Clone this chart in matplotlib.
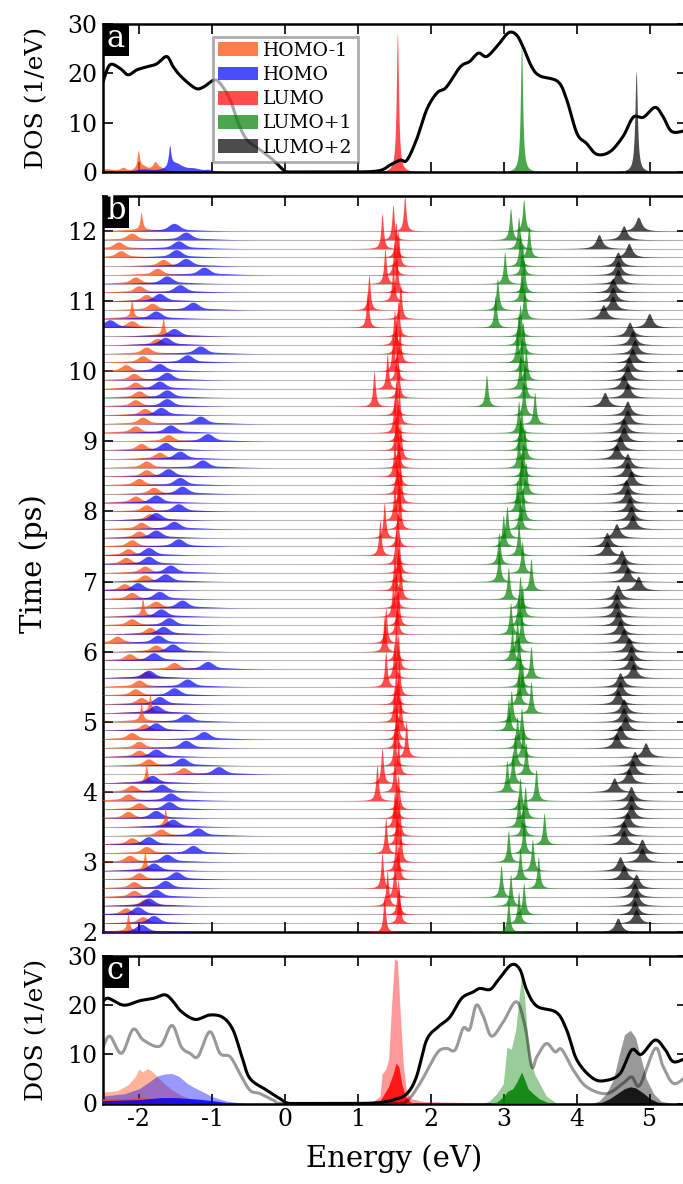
import numpy as np
import matplotlib
matplotlib.use('Agg')
import matplotlib.pyplot as plt
from matplotlib.patches import Patch, Rectangle

plt.rcParams['font.family'] = ['DejaVu Serif']
plt.rcParams['axes.unicode_minus'] = False
plt.rcParams['xtick.direction'] = 'in'
plt.rcParams['ytick.direction'] = 'in'
plt.rcParams['xtick.top'] = True
plt.rcParams['ytick.right'] = True
plt.rcParams['xtick.major.size'] = 7
plt.rcParams['ytick.major.size'] = 7
plt.rcParams['xtick.major.width'] = 1.2
plt.rcParams['ytick.major.width'] = 1.2
plt.rcParams['axes.linewidth'] = 1.8

orbitals = ['HOMO-1', 'HOMO', 'LUMO', 'LUMO+1', 'LUMO+2']
orb_colors = ['orangered', 'blue', 'red', 'green', 'black']

# ---- panel a: total DOS (black) ----
a_energy = [-2.50, -2.40, -2.26, -2.15, -2.03, -1.90, -1.76, -1.62, -1.53, -1.42, -1.23, -1.12,
            -0.98, -0.89, -0.75, -0.64, -0.52, -0.34, -0.16, -0.02, 0.07, 0.5, 1.0, 1.30, 1.45,
            1.58, 1.67, 1.80, 1.94, 2.08, 2.21, 2.40, 2.53, 2.65, 2.76, 2.90, 3.06, 3.17, 3.26,
            3.38, 3.49, 3.74, 3.86, 4.00, 4.13, 4.27, 4.45, 4.63, 4.77, 4.91, 5.07, 5.18, 5.30, 5.50]
a_dos = [18.0, 21.7, 21.0, 19.7, 20.7, 21.3, 21.9, 23.4, 21.3, 19.3, 17.0, 17.2,
         18.6, 18.0, 14.6, 9.9, 6.5, 4.5, 2.4, 0.4, 0.0, 0.0, 0.0, 0.3, 1.5,
         2.4, 2.4, 6.5, 12.6, 16.0, 17.2, 21.3, 22.4, 24.1, 23.4, 25.4, 28.2, 27.8, 25.4,
         21.3, 19.5, 18.3, 14.6, 7.8, 5.8, 3.6, 4.1, 7.2, 11.1, 11.1, 13.1, 11.2, 8.2, 8.4]

# panel a projected peaks: (energy, height, half-width) per orbital
a_peaks = {
    'HOMO-1': [(-2.45, 0.6, 0.12), (-2.22, 0.7, 0.05), (-2.01, 3.6, 0.02), (-1.95, 1.0, 0.08),
               (-1.78, 1.6, 0.04), (-1.70, 0.6, 0.08)],
    'HOMO': [(-1.95, 0.5, 0.15), (-1.58, 4.2, 0.02), (-1.50, 1.6, 0.12), (-1.25, 0.5, 0.12),
             (-1.05, 0.3, 0.06)],
    'LUMO': [(1.54, 28.4, 0.018)],
    'LUMO+1': [(3.24, 26.1, 0.018)],
    'LUMO+2': [(4.81, 20.5, 0.02)],
}

# ---- panel b: orbital energies per snapshot, from t = 12 ps down to t = 2 ps ----
times = np.linspace(12, 2, 81)
homo1_e = [-1.97, -2.10, -2.28, -2.25, -1.67, -1.75, -2.05, -2.00, -1.90, -1.82, -2.10,
           -2.10, -1.67, -1.75, -1.90, -1.95, -2.18, -2.07, -2.05, -2.00, -2.05,
           -1.92, -1.95, -2.05, -1.60, -1.97, -1.72, -1.90, -1.90, -2.00, -1.80,
           -2.05, -1.90, -1.85, -1.97, -2.00, -2.10, -2.15, -2.18, -1.92, -1.92,
           -2.20, -2.10, -1.77, -1.95, -2.10, -1.85, -2.30, -1.77, -2.13, -1.52,
           -1.90, -2.00, -2.05, -1.97, -1.85, -1.97, -1.92, -2.10, -2.00, -2.00,
           -1.87, -1.39, -1.90, -2.10, -2.15, -2.00, -2.15, -1.64, -1.70, -2.10,
           -1.90, -2.13, -1.92, -2.00, -2.07, -2.07, -1.92, -2.18, -1.95, -2.15]
homo1_sharp_times = [12.0, 10.75, 10.5, 6.5, 5.125, 5.0, 4.125, 3.5, 2.875, 2.0]
homo_e = [-1.52, -1.36, -1.46, -1.49, -1.36, -1.11, -1.62, -1.44, -1.72, -1.26, -1.77,
          -2.40, -1.52, -1.64, -1.16, -1.34, -1.72, -1.62, -1.72, -1.62, -1.62,
          -1.70, -1.16, -1.57, -1.06, -1.64, -1.44, -1.13, -1.60, -1.44, -1.41,
          -1.77, -1.46, -1.77, -1.52, -1.77, -1.46, -1.87, -1.87, -1.57, -1.64,
          -2.02, -1.72, -1.41, -1.70, -1.59, -1.67, -1.74, -1.54, -1.80, -1.06,
          -1.87, -1.34, -1.52, -1.72, -1.77, -1.36, -1.77, -1.11, -1.36, -1.77,
          -1.41, -0.91, -1.82, -1.69, -1.57, -1.59, -1.77, -1.54, -1.19, -1.87,
          -1.26, -1.62, -1.80, -1.49, -1.64, -1.77, -1.87, -2.02, -1.80, -1.97]
lumo_e = [1.64, 1.48, 1.33, 1.52, 1.55, 1.50, 1.37, 1.53, 1.48, 1.15, 1.58,
          1.13, 1.55, 1.50, 1.52, 1.57, 1.48, 1.53, 1.40, 1.55, 1.22,
          1.52, 1.56, 1.50, 1.54, 1.52, 1.58, 1.55, 1.50, 1.56, 1.53,
          1.58, 1.55, 1.50, 1.57, 1.36, 1.54, 1.30, 1.52, 1.56, 1.55,
          1.50, 1.58, 1.52, 1.48, 1.55, 1.53, 1.38, 1.36, 1.52, 1.55,
          1.50, 1.38, 1.56, 1.52, 1.55, 1.50, 1.58, 1.53, 1.52, 1.66,
          1.50, 1.55, 1.33, 1.50, 1.26, 1.55, 1.52, 1.50, 1.56, 1.53,
          1.38, 1.58, 1.52, 1.55, 1.33, 1.50, 1.40, 1.55, 1.56, 1.36]
lumo1_e = [3.27, 3.09, 3.20, 3.34, 3.22, 3.25, 3.01, 3.27, 3.24, 2.91, 3.28,
           2.88, 3.22, 3.20, 3.26, 3.18, 3.24, 3.30, 3.22, 3.28, 2.76,
           3.27, 3.42, 3.20, 3.24, 3.22, 3.28, 3.20, 3.26, 3.24, 3.30,
           3.22, 3.18, 3.26, 3.22, 3.04, 2.99, 3.20, 2.93, 3.25, 2.93,
           3.37, 3.06, 3.22, 3.25, 3.20, 3.09, 3.24, 3.18, 3.11, 3.20,
           3.37, 3.22, 3.25, 3.20, 3.37, 3.10, 3.06, 3.24, 3.18, 3.26,
           3.15, 3.30, 3.12, 3.04, 3.44, 3.22, 3.29, 3.20, 3.26, 3.55,
           3.27, 3.06, 3.39, 3.22, 3.47, 2.96, 3.09, 3.27, 3.20, 3.06]
lumo2_e = [4.84, 4.64, 4.30, 4.71, 4.56, 4.56, 4.56, 4.49, 4.49, 4.49, 4.36,
           4.99, 4.72, 4.76, 4.79, 4.76, 4.71, 4.69, 4.64, 4.69, 4.38,
           4.69, 4.69, 4.64, 4.64, 4.59, 4.54, 4.69, 4.69, 4.74, 4.67,
           4.69, 4.72, 4.74, 4.76, 4.54, 4.41, 4.41, 4.61, 4.64, 4.69,
           4.84, 4.56, 4.54, 4.54, 4.56, 4.59, 4.64, 4.71, 4.74, 4.74,
           4.77, 4.59, 4.59, 4.56, 4.64, 4.64, 4.66, 4.59, 4.54, 4.94,
           4.79, 4.76, 4.71, 4.51, 4.74, 4.74, 4.74, 4.69, 4.64, 4.64,
           4.89, 4.89, 4.59, 4.64, 4.81, 4.79, 4.81, 4.79, 4.81, 4.56]

# ---- panel c: time-averaged DOS ----
c_energy = [-2.50, -2.42, -2.21, -1.99, -1.80, -1.64, -1.53, -1.42, -1.23, -1.03, -0.85, -0.71,
            -0.59, -0.48, -0.25, -0.07, 0.07, 0.5, 1.0, 1.3, 1.5, 1.67, 1.80, 1.94, 2.10, 2.26,
            2.42, 2.58, 2.67, 2.81, 2.92, 3.10, 3.22, 3.31, 3.45, 3.72, 3.86, 4.00, 4.22, 4.40,
            4.59, 4.75, 4.88, 5.07, 5.21, 5.32, 5.50]
c_dos = [20.7, 21.4, 20.0, 20.9, 21.4, 22.1, 20.7, 18.7, 17.1, 18.0, 17.5, 14.9,
         9.5, 5.1, 2.7, 1.0, 0.0, 0.0, 0.0, 0.2, 0.8, 2.0, 5.4, 12.9, 15.6, 17.6,
         21.4, 22.7, 23.4, 23.2, 25.1, 28.2, 27.2, 23.1, 19.8, 18.5, 14.9, 8.8, 5.1, 4.7,
         6.1, 10.9, 10.0, 12.9, 10.9, 8.5, 9.2]
c_gray_energy = [-2.50, -2.40, -2.24, -2.08, -1.94, -1.71, -1.55, -1.42, -1.30, -1.19, -1.03, -0.89,
                 -0.75, -0.62, -0.48, -0.34, -0.15, 0.0, 1.0, 1.5, 1.67, 1.85, 2.08, 2.21, 2.33,
                 2.44, 2.53, 2.62, 2.72, 2.83, 2.99, 3.17, 3.29, 3.38, 3.45, 3.58, 3.70, 3.79,
                 3.95, 4.13, 4.40, 4.63, 4.75, 4.86, 5.07, 5.18, 5.32, 5.50]
c_gray_dos = [11.2, 13.7, 10.2, 15.1, 12.9, 11.7, 15.9, 11.5, 10.2, 9.6, 14.6, 10.2,
              9.5, 6.1, 2.7, 2.0, 0.6, 0.0, 0.0, 0.0, 0.5, 4.1, 10.2, 11.2, 10.9,
              15.3, 15.1, 20.0, 17.6, 13.7, 16.6, 20.7, 15.6, 7.5, 9.5, 12.2, 10.5, 11.0,
              6.8, 3.4, 2.0, 4.1, 5.4, 3.7, 11.2, 7.5, 4.1, 5.4]

# light (upper) and dark (lower) projected curves, (energy list, value list)
c_light = {
    'HOMO-1': ([-2.5, -2.3, -2.15, -2.05, -2.0, -1.95, -1.88, -1.82, -1.75, -1.65, -1.55, -1.4, -1.2, -1.0, -0.8],
               [2.3, 2.6, 3.8, 5.5, 7.0, 6.4, 7.1, 6.5, 5.5, 4.0, 2.8, 1.5, 0.5, 0.1, 0.0]),
    'HOMO': ([-2.5, -2.2, -2.0, -1.85, -1.75, -1.65, -1.55, -1.45, -1.35, -1.25, -1.1, -1.0, -0.8, -0.6, -0.5],
             [1.5, 2.0, 3.0, 4.5, 5.6, 6.0, 6.1, 5.5, 4.2, 3.3, 2.2, 1.4, 0.5, 0.1, 0.0]),
    'LUMO': ([1.0, 1.2, 1.30, 1.33, 1.38, 1.42, 1.46, 1.50, 1.54, 1.58, 1.62, 1.66, 1.72, 1.9, 2.5, 3.0],
             [0.0, 0.3, 1.5, 6.0, 7.0, 9.0, 20.0, 29.5, 29.0, 18.0, 8.0, 3.0, 1.0, 0.4, 0.2, 0.0]),
    'LUMO+1': ([2.7, 2.80, 2.90, 2.99, 3.04, 3.10, 3.16, 3.21, 3.24, 3.28, 3.32, 3.36, 3.42, 3.49, 3.58, 3.7],
               [0.0, 0.5, 2.0, 4.0, 11.5, 11.0, 15.0, 22.0, 25.8, 22.0, 14.0, 9.0, 6.0, 4.0, 1.5, 0.3]),
    'LUMO+2': ([4.2, 4.30, 4.40, 4.50, 4.58, 4.65, 4.73, 4.80, 4.88, 4.95, 5.05, 5.15, 5.3],
               [0.0, 0.5, 2.0, 5.0, 10.0, 14.0, 14.9, 13.5, 9.0, 5.0, 2.0, 0.5, 0.0]),
}
c_dark = {
    'HOMO-1': ([-2.5, -2.2, -2.0, -1.8, -1.6, -1.4, -1.2], [1.0, 1.0, 1.2, 1.0, 0.6, 0.3, 0.0]),
    'HOMO': ([-2.5, -2.0, -1.7, -1.5, -1.2, -1.0, -0.8, -0.6], [0.6, 0.8, 1.2, 1.2, 0.9, 0.6, 0.2, 0.0]),
    'LUMO': ([1.2, 1.30, 1.36, 1.42, 1.48, 1.52, 1.56, 1.60, 1.65, 1.72, 1.8],
             [0.0, 0.5, 2.0, 3.5, 6.0, 8.2, 7.5, 4.0, 1.5, 0.3, 0.0]),
    'LUMO+1': ([2.8, 2.90, 3.00, 3.05, 3.12, 3.18, 3.24, 3.28, 3.33, 3.40, 3.48, 3.60, 3.7],
               [0.0, 0.3, 1.5, 2.5, 3.0, 4.5, 6.4, 5.0, 3.0, 2.0, 1.0, 0.2, 0.0]),
    'LUMO+2': ([4.25, 4.35, 4.45, 4.55, 4.65, 4.73, 4.80, 4.90, 5.00, 5.10, 5.2],
               [0.0, 0.3, 1.0, 2.0, 3.0, 3.4, 3.2, 2.2, 1.0, 0.3, 0.0]),
}


def lorentz(x, x0, g):
    return g**2 / ((x - x0)**2 + g**2)


def gauss(x, x0, s):
    return np.exp(-0.5 * ((x - x0) / s)**2)


def smooth_line(xs, ys, n=12):
    # Catmull-Rom pass through the read points, only to draw a rounded line
    x = np.asarray(xs, float)
    y = np.asarray(ys, float)
    px = np.concatenate([[2 * x[0] - x[1]], x, [2 * x[-1] - x[-2]]])
    py = np.concatenate([[2 * y[0] - y[1]], y, [2 * y[-1] - y[-2]]])
    u = np.linspace(0, 1, n, endpoint=False)
    ox, oy = [], []
    for k in range(1, len(px) - 2):
        for arr, out in ((px, ox), (py, oy)):
            p0, p1, p2, p3 = arr[k - 1], arr[k], arr[k + 1], arr[k + 2]
            out.extend(0.5 * (2 * p1 + (-p0 + p2) * u + (2 * p0 - 5 * p1 + 4 * p2 - p3) * u**2
                              + (-p0 + 3 * p1 - 3 * p2 + p3) * u**3))
    ox.append(x[-1])
    oy.append(y[-1])
    return np.array(ox), np.clip(np.array(oy), 0, None)


def panel_label(ax, letter, fig_w, fig_h):
    pos = ax.get_position()
    w = 26 / (pos.width * fig_w)
    h = 32 / (pos.height * fig_h)
    ax.add_patch(Rectangle((0, 1 - h), w, h, transform=ax.transAxes, facecolor='black',
                           edgecolor='none', zorder=20, clip_on=False))
    ax.text(w / 2, 1 - h / 2 + 0.05 * h, letter, transform=ax.transAxes, color='white',
            fontsize=22, ha='center', va='center', zorder=21)


W, H = 683, 1184
fig = plt.figure(figsize=(W / 100, H / 100), dpi=100)
left, width = 102.5 / W, 584 / W
ax_a = fig.add_axes([left, 1 - 172 / H, width, 148 / H])
ax_b = fig.add_axes([left, 1 - 932 / H, width, 736 / H])
ax_c = fig.add_axes([left, 1 - 1103.5 / H, width, 147.5 / H])

E = np.linspace(-2.6, 5.6, 2000)

# panel a
sx, sy = smooth_line(a_energy, a_dos)
ax_a.plot(sx, sy, color='black', lw=2.2, zorder=3)
for name, col in zip(orbitals, orb_colors):
    prof = np.zeros_like(E)
    for e0, h, g in a_peaks[name]:
        prof += h * lorentz(E, e0, g)
    ax_a.fill_between(E, 0, prof, color=col, alpha=0.7, lw=0, zorder=2)
handles = [Patch(facecolor=c, alpha=0.7, edgecolor='none', label=n) for n, c in zip(orbitals, orb_colors)]
leg = ax_a.legend(handles=handles, loc='upper left', bbox_to_anchor=(0.189, 0.915), fontsize=13.5,
                  frameon=True, fancybox=False, edgecolor='gray', framealpha=0.65,
                  handlelength=2.1, handleheight=0.75, labelspacing=0.33, borderpad=0.28,
                  handletextpad=0.3, borderaxespad=0)
leg.get_frame().set_linewidth(2)
leg.set_zorder(10)
ax_a.set_ylim(0, 30)
ax_a.set_yticks([0, 10, 20, 30])
ax_a.set_ylabel('DOS (1/eV)', fontsize=18)

# panel b
sharp = set(np.round(homo1_sharp_times, 3))
for i, t in enumerate(times):
    z = 2 + i * 0.01
    ax_b.hlines(t, -2.6, 5.6, color='#bdbdbd', lw=0.8, zorder=1)
    if round(t, 3) in sharp:
        p1 = 0.24 * lorentz(E, homo1_e[i], 0.02) + 0.025 * gauss(E, homo1_e[i], 0.3)
    else:
        p1 = 0.07 * gauss(E, homo1_e[i], 0.06) + 0.025 * gauss(E, homo1_e[i], 0.3)
    p2 = 0.085 * gauss(E, homo_e[i], 0.07) + 0.025 * gauss(E, homo_e[i], 0.35)
    p3 = 0.5 * lorentz(E, lumo_e[i], 0.02)
    p4 = 0.45 * lorentz(E, lumo1_e[i], 0.022)
    p5 = 0.2 * lorentz(E, lumo2_e[i], 0.05)
    for p, col in zip([p1, p2, p3, p4, p5], orb_colors):
        ax_b.fill_between(E, t, t + p, color=col, alpha=0.7, lw=0, zorder=z)
ax_b.set_ylim(2, 12.5)
ax_b.set_yticks(range(2, 13))
ax_b.set_ylabel('Time (ps)', fontsize=21)

# panel c
for name, col in zip(orbitals, orb_colors):
    ex, dy = c_light[name]
    ax_c.fill_between(ex, 0, dy, color=col, alpha=0.4, lw=0, zorder=2)
for name, col in zip(orbitals, orb_colors):
    ex, dy = c_dark[name]
    ax_c.fill_between(ex, 0, dy, color=col, alpha=0.85, lw=0, zorder=3)
sx, sy = smooth_line(c_gray_energy, c_gray_dos)
ax_c.plot(sx, sy, color='black', alpha=0.4, lw=2.2, zorder=4)
sx, sy = smooth_line(c_energy, c_dos)
ax_c.plot(sx, sy, color='black', lw=2.2, zorder=5)
ax_c.set_ylim(0, 30)
ax_c.set_yticks([0, 10, 20, 30])
ax_c.set_ylabel('DOS (1/eV)', fontsize=18)
ax_c.set_xlabel('Energy (eV)', fontsize=21, labelpad=9)

for ax in (ax_a, ax_b, ax_c):
    ax.set_xlim(-2.5, 5.5)
    ax.set_xticks(range(-2, 6))
    ax.tick_params(labelsize=17)
    ax.yaxis.set_label_coords(-0.093, 0.5)
ax_a.set_xticklabels([])
ax_b.set_xticklabels([])

panel_label(ax_a, 'a', W, H)
panel_label(ax_b, 'b', W, H)
panel_label(ax_c, 'c', W, H)

fig.savefig('out.png', dpi=100)
